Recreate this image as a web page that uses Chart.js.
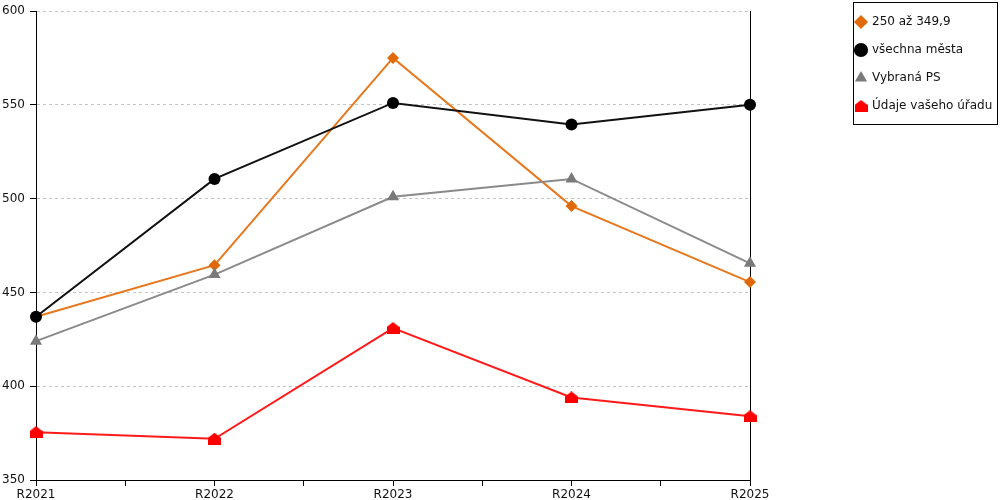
<!DOCTYPE html>
<html>
<head>
<meta charset="utf-8">
<script src="https://cdn.jsdelivr.net/npm/chart.js@4.4.1/dist/chart.umd.min.js"></script>
<style>
  html, body { margin: 0; padding: 0; background: #fff; }
  #wrap { width: 1000px; height: 500px; }
</style>
</head>
<body>
<div id="wrap"><canvas id="chart"></canvas></div>
<script>
const categories = ['R2021', 'R2022', 'R2023', 'R2024', 'R2025'];
const seriesNames = ['250 až 349,9', 'všechna města', 'Vybraná PS', 'Údaje vašeho úřadu'];
const range250 = [437, 464.5, 575, 496, 455.5];
const allTowns = [437, 510.5, 551, 539.5, 550];
const selectedPS = [424, 459.5, 501, 510.5, 465.5];
const yourOffice = [375.5, 372, 431, 394, 384];
const yTicks = [350, 400, 450, 500, 550, 600];

// little house marker for the last series
function housePoint(color) {
  const c = document.createElement('canvas');
  c.width = 13; c.height = 12;
  const g = c.getContext('2d');
  g.fillStyle = color;
  g.beginPath();
  g.moveTo(6.5, 0); g.lineTo(13, 5); g.lineTo(13, 12); g.lineTo(0, 12); g.lineTo(0, 5);
  g.closePath();
  g.fill();
  return c;
}

const toPoints = arr => arr.map((v, i) => ({ x: i, y: v }));

Chart.defaults.font.family = 'DejaVu Sans';
Chart.defaults.font.size = 12;
Chart.defaults.color = '#111';

// frame round the legend
const legendBox = {
  id: 'legendBox',
  afterDraw(chart) {
    const hb = chart.legend.legendHitBoxes;
    if (!hb || !hb.length) return;
    const ctx = chart.ctx;
    const last = hb[hb.length - 1];
    const left = hb[0].left - 3, top = hb[0].top - 14;
    ctx.save();
    ctx.strokeStyle = '#000';
    ctx.lineWidth = 1;
    ctx.strokeRect(Math.round(left) + 0.5, Math.round(top) + 0.5, 144, last.top + 24 - top);
    ctx.restore();
  }
};

new Chart(document.getElementById('chart'), {
  type: 'line',
  data: {
    datasets: [{
      label: seriesNames[0],
      data: toPoints(range250),
      borderColor: '#e8781e',
      backgroundColor: '#e06a0a',
      borderWidth: 2,
      pointStyle: 'rectRot',
      pointRadius: 6,
      pointBorderWidth: 0,
      clip: false,
      order: 3
    }, {
      label: seriesNames[1],
      data: toPoints(allTowns),
      borderColor: '#111',
      backgroundColor: '#000',
      borderWidth: 2,
      pointStyle: 'circle',
      pointRadius: 6,
      pointBorderWidth: 0,
      clip: false,
      order: 2
    }, {
      label: seriesNames[2],
      data: toPoints(selectedPS),
      borderColor: '#8a8a8a',
      backgroundColor: '#7a7a7a',
      borderWidth: 2,
      pointStyle: 'triangle',
      pointRadius: 7,
      pointBorderWidth: 0,
      clip: false,
      order: 1
    }, {
      label: seriesNames[3],
      data: toPoints(yourOffice),
      borderColor: '#ff1a1a',
      backgroundColor: '#ff0000',
      borderWidth: 2,
      pointStyle: housePoint('#ff0000'),
      pointRadius: 6,
      pointBorderWidth: 0,
      clip: false,
      order: 0
    }]
  },
  options: {
    responsive: true,
    maintainAspectRatio: false,
    animation: false,
    layout: { padding: 0 },
    plugins: {
      tooltip: { enabled: false },
      legend: {
        position: 'right',
        align: 'start',
        maxWidth: 160,
        labels: {
          usePointStyle: true,
          boxWidth: 10,
          boxHeight: 10,
          padding: 16,
          color: '#111',
          font: { size: 12 },
          sort: (a, b) => a.datasetIndex - b.datasetIndex
        }
      }
    },
    scales: {
      x: {
        type: 'linear',
        min: 0,
        max: categories.length - 1,
        afterFit: s => { s.height = 20; },
        ticks: {
          stepSize: 0.5,
          autoSkip: false,
          maxRotation: 0,
          padding: 2,
          callback: v => Number.isInteger(v) ? categories[v] : ''
        },
        grid: { drawOnChartArea: false, tickLength: 6, tickColor: '#000' },
        border: { color: '#000', width: 1 }
      },
      y: {
        min: yTicks[0],
        max: yTicks[yTicks.length - 1],
        afterFit: s => { s.width = 36; },
        afterBuildTicks: s => { s.ticks = yTicks.map(v => ({ value: v })); },
        ticks: { padding: 5, font: { lineHeight: 1.0 } },
        grid: { color: '#c4c4c4', tickColor: '#000', tickLength: 6, tickBorderDash: [] },
        border: { color: '#000', width: 1, dash: [3, 3] }
      },
      y2: {
        position: 'right',
        min: yTicks[0],
        max: yTicks[yTicks.length - 1],
        afterFit: s => { s.width = 90; },
        ticks: { display: false },
        grid: { drawOnChartArea: false, drawTicks: false },
        border: { color: '#000', width: 1 }
      }
    }
  },
  plugins: [legendBox]
});
</script>
</body>
</html>
